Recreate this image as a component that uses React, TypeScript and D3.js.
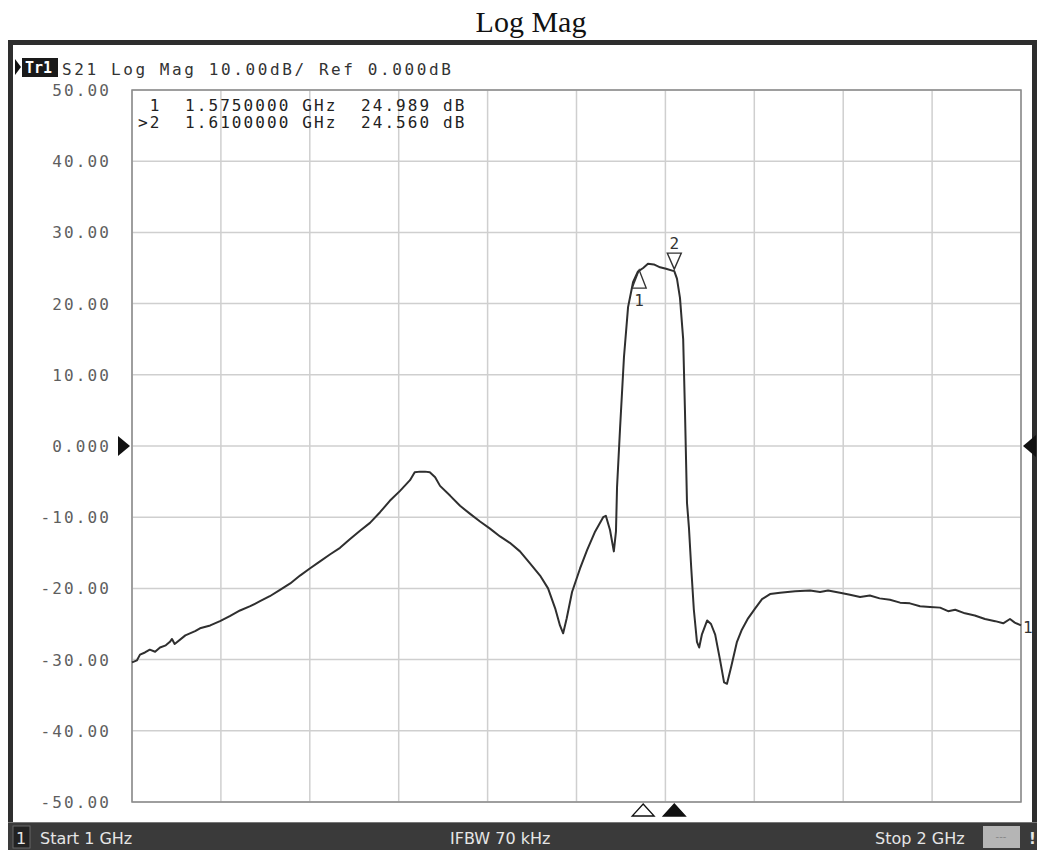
import React from 'react';
import * as d3 from 'd3';

// trace S21, frequency in GHz, magnitude in dB
const freqs = [
  1.000, 1.0056, 1.009, 1.0146, 1.020, 1.026, 1.0315, 1.038, 1.0427, 1.045, 1.048, 1.060, 1.071, 1.0765,
  1.088, 1.099, 1.110, 1.1215, 1.133, 1.144, 1.155, 1.1665, 1.178, 1.189, 1.200, 1.2115, 1.223, 1.234,
  1.245, 1.2565, 1.2677, 1.279, 1.290, 1.3015, 1.3127, 1.318, 1.324, 1.3296, 1.335, 1.341, 1.3465, 1.358,
  1.369, 1.380, 1.3915, 1.4027, 1.414, 1.425, 1.4364, 1.4477, 1.459, 1.468, 1.476, 1.4814, 1.485, 1.489,
  1.495, 1.504, 1.512, 1.521, 1.530, 1.533, 1.5377, 1.542, 1.5444, 1.5456, 1.549, 1.5534, 1.558, 1.5636,
  1.569, 1.575, 1.5804, 1.587, 1.594, 1.6007, 1.6086, 1.610, 1.613, 1.6164, 1.620, 1.622, 1.6243, 1.6265,
  1.629, 1.632, 1.6355, 1.638, 1.641, 1.647, 1.6513, 1.656, 1.6614, 1.666, 1.6693, 1.674, 1.6805, 1.686,
  1.693, 1.701, 1.7087, 1.7177, 1.729, 1.746, 1.7627, 1.774, 1.783, 1.7964, 1.8076, 1.819, 1.830, 1.841,
  1.8526, 1.864, 1.875, 1.8864, 1.8976, 1.909, 1.918, 1.926, 1.937, 1.948, 1.9595, 1.971, 1.980, 1.9876,
  1.993, 2.000,
];
const s21 = [
  -30.4, -30.1, -29.3, -29.0, -28.6, -28.9, -28.3, -28.0, -27.5, -27.1, -27.8, -26.6, -26.0, -25.6,
  -25.2, -24.6, -23.9, -23.1, -22.5, -21.8, -21.1, -20.2, -19.3, -18.2, -17.2, -16.2, -15.2, -14.3,
  -13.1, -11.9, -10.8, -9.3, -7.7, -6.3, -4.8, -3.7, -3.6, -3.6, -3.7, -4.4, -5.6, -7.0,
  -8.4, -9.5, -10.6, -11.6, -12.7, -13.6, -14.8, -16.5, -18.2, -20.0, -22.8, -25.2, -26.3, -24.2,
  -20.5, -17.2, -14.6, -12.0, -10.0, -9.8, -11.8, -14.8, -12.0, -5.8, 2.5, 12.5, 19.5, 23.0,
  24.5, 25.0, 25.6, 25.5, 25.1, 24.9, 24.6, 24.56, 23.5, 20.8, 15.0, 5.0, -8.0, -11.5,
  -17.0, -23.0, -27.5, -28.3, -26.5, -24.5, -25.0, -26.5, -30.0, -33.2, -33.4, -31.0, -27.5, -25.8,
  -24.2, -22.8, -21.5, -20.8, -20.6, -20.4, -20.3, -20.5, -20.3, -20.6, -20.9, -21.2, -21.0, -21.4,
  -21.6, -22.0, -22.1, -22.5, -22.6, -22.7, -23.2, -23.0, -23.5, -23.8, -24.3, -24.6, -24.9, -24.3,
  -24.8, -25.2,
];

const markerIds = ['1', '2'];
const markerFreqs = [1.575, 1.61];
const markerValues = [24.989, 24.56];
const markerRows = [' 1  1.5750000 GHz  24.989 dB', '>2  1.6100000 GHz  24.560 dB'];

const yTicks = [50, 40, 30, 20, 10, 0, -10, -20, -30, -40, -50];
const yTickLabels = ['50.00', '40.00', '30.00', '20.00', '10.00', '0.000', '-10.00', '-20.00', '-30.00', '-40.00', '-50.00'];
const xTicks = [1.0, 1.1, 1.2, 1.3, 1.4, 1.5, 1.6, 1.7, 1.8, 1.9, 2.0];

const W = 1037;
const H = 850;
const mono = "'DejaVu Sans Mono', monospace";
const sans = "'DejaVu Sans', sans-serif";

const App: React.FC = () => {
  const x = d3.scaleLinear().domain([1, 2]).range([132, 1021]);
  const y = d3.scaleLinear().domain([-50, 50]).range([802, 90]);

  const line = d3.line<number>()
    .x((_, i) => x(freqs[i]))
    .y(d => y(d));

  const y0 = y(0);

  return (
    <div style={{ position: 'absolute', left: 0, top: 0 }}>
      <svg width={W} height={H} style={{ display: 'block', background: '#fff' }}>
        <text x={531} y={32} textAnchor="middle" fontFamily="'Liberation Serif', serif" fontSize={30} fill="#111">
          Log Mag
        </text>

        {/* instrument frame */}
        <rect x={8} y={40} width={1029} height={810} fill="#2e2e2e" />
        <rect x={13} y={45} width={1019} height={777} fill="#fff" />

        {/* trace header */}
        <path d="M15,59 L21,67 L15,75 Z" fill="#111" />
        <rect x={22} y={58} width={36} height={19} fill="#1a1a1a" />
        <text x={25} y={73} fontFamily={mono} fontSize={15} fontWeight="bold" fill="#fff">Tr1</text>
        <text x={62} y={75} fontFamily={mono} fontSize={16} letterSpacing={2.6} fill="#333" style={{ whiteSpace: 'pre' }}>
          S21 Log Mag 10.00dB/ Ref 0.000dB
        </text>

        {/* grid */}
        {xTicks.map(t => (
          <line key={'gx' + t} x1={x(t)} x2={x(t)} y1={y(50)} y2={y(-50)} stroke="#cfcfcf" strokeWidth={1.5} />
        ))}
        {yTicks.map(t => (
          <line key={'gy' + t} x1={x(1)} x2={x(2)} y1={y(t)} y2={y(t)} stroke="#cfcfcf" strokeWidth={1.5} />
        ))}
        <rect x={x(1)} y={y(50)} width={x(2) - x(1)} height={y(-50) - y(50)} fill="none" stroke="#8a8a8a" strokeWidth={1.5} />

        {/* y labels */}
        {yTicks.map((t, i) => (
          <text key={'yl' + t} x={111} y={y(t) + 6} textAnchor="end" fontFamily={mono} fontSize={16}
            letterSpacing={2.1} fill="#5e5e5e">
            {yTickLabels[i]}
          </text>
        ))}

        {/* reference level arrows */}
        <path d={`M118,${y0 - 10} L130,${y0} L118,${y0 + 10} Z`} fill="#111" />
        <path d={`M1036,${y0 - 11} L1023,${y0} L1036,${y0 + 11} Z`} fill="#111" />

        {/* marker table */}
        {markerRows.map((r, i) => (
          <text key={'mr' + i} x={138} y={111 + i * 17} fontFamily={mono} fontSize={16} letterSpacing={2.1}
            fill="#222" style={{ whiteSpace: 'pre' }}>
            {r}
          </text>
        ))}

        {/* trace */}
        <path d={line(s21) || ''} fill="none" stroke="#2f2f2f" strokeWidth={2} strokeLinejoin="round" />
        <text x={x(2) + 2} y={y(s21[s21.length - 1]) + 8} fontFamily={mono} fontSize={16} fill="#333">1</text>

        {/* markers on trace */}
        {markerFreqs.map((f, i) => {
          const mx = x(f);
          const my = y(markerValues[i]);
          if (i === 0) {
            return (
              <g key={'mk' + i}>
                <path d={`M${mx - 4},${my + 2} L${mx - 11},${my + 20} L${mx + 3},${my + 20} Z`} fill="none" stroke="#333" strokeWidth={1.4} />
                <text x={mx - 4} y={my + 38} textAnchor="middle" fontFamily={mono} fontSize={16} fill="#333">{markerIds[i]}</text>
              </g>
            );
          }
          return (
            <g key={'mk' + i}>
              <path d={`M${mx - 7},${my - 18} L${mx + 7},${my - 18} L${mx},${my - 2} Z`} fill="none" stroke="#333" strokeWidth={1.4} />
              <text x={mx} y={my - 22} textAnchor="middle" fontFamily={mono} fontSize={16} fill="#333">{markerIds[i]}</text>
            </g>
          );
        })}

        {/* markers on x axis */}
        {markerFreqs.map((f, i) => {
          const mx = x(f);
          return (
            <path key={'mb' + i} d={`M${mx},804 L${mx + 11},816 L${mx - 11},816 Z`}
              fill={i === 1 ? '#111' : '#fff'} stroke="#111" strokeWidth={1.3} />
          );
        })}

        {/* status bar */}
        <rect x={8} y={822} width={1029} height={28} fill="#3a3a3a" />
        <line x1={8} x2={1037} y1={822.5} y2={822.5} stroke="#777" />
        <rect x={13} y={826} width={17} height={22} fill="#222" stroke="#666" />
        <text x={16} y={844} fontFamily={sans} fontSize={16} fill="#e6e6e6">1</text>
        <text x={40} y={844} fontFamily={sans} fontSize={16} fill="#e6e6e6">Start 1 GHz</text>
        <text x={450} y={844} fontFamily={sans} fontSize={16} fill="#e6e6e6">IFBW 70 kHz</text>
        <text x={875} y={844} fontFamily={sans} fontSize={16} fill="#e6e6e6">Stop 2 GHz</text>
        <rect x={983} y={826} width={37} height={22} fill="#b5b5b5" />
        <text x={1001} y={840} textAnchor="middle" fontFamily={sans} fontSize={10} fill="#888">---</text>
        <text x={1029} y={844} fontFamily={sans} fontSize={15} fontWeight="bold" fill="#e6e6e6">!</text>
      </svg>
    </div>
  );
};

export default App;
